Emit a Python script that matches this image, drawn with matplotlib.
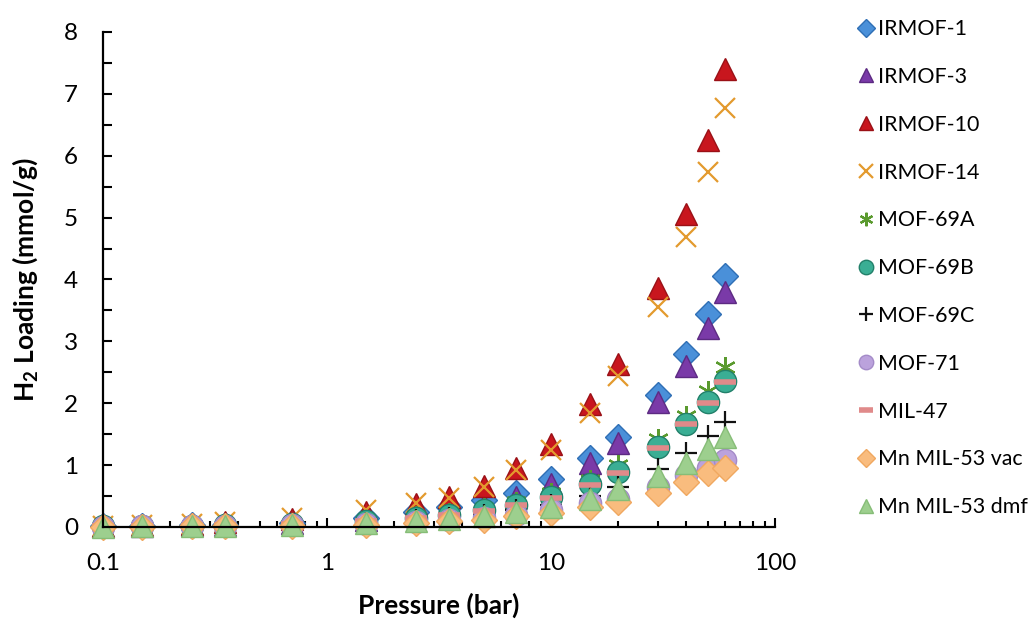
import numpy as np
import matplotlib
matplotlib.use("Agg")
import matplotlib.pyplot as plt
from matplotlib.ticker import MultipleLocator, LogLocator, FixedLocator, FixedFormatter

plt.rcParams["font.family"] = ["Lato", "DejaVu Sans"]
plt.rcParams["mathtext.fontset"] = "custom"
plt.rcParams["mathtext.rm"] = "Lato"
plt.rcParams["mathtext.bf"] = "Lato:bold"

# pressure points [bar]
pressure = [0.1, 0.15, 0.25, 0.35, 0.7, 1.5, 2.5, 3.5, 5, 7, 10, 15, 20, 30, 40, 50, 60]

# H2 loading [mmol/g]
irmof_1 = [0.01, 0.02, 0.03, 0.04, 0.07, 0.14, 0.24, 0.33, 0.43, 0.55, 0.77, 1.11, 1.45, 2.14, 2.80, 3.45, 4.05]
irmof_3 = [0.01, 0.02, 0.03, 0.04, 0.06, 0.12, 0.20, 0.27, 0.36, 0.48, 0.70, 1.04, 1.36, 2.02, 2.60, 3.22, 3.79]
irmof_10 = [0.02, 0.03, 0.05, 0.08, 0.13, 0.24, 0.37, 0.48, 0.66, 0.95, 1.34, 1.98, 2.63, 3.87, 5.06, 6.26, 7.40]
irmof_14 = [0.02, 0.03, 0.05, 0.08, 0.14, 0.27, 0.39, 0.47, 0.64, 0.92, 1.24, 1.84, 2.44, 3.56, 4.68, 5.73, 6.77]
mof_69a = [0.01, 0.02, 0.03, 0.04, 0.06, 0.11, 0.17, 0.23, 0.31, 0.41, 0.55, 0.76, 1.00, 1.42, 1.80, 2.20, 2.58]
mof_69b = [0.01, 0.01, 0.02, 0.03, 0.05, 0.09, 0.15, 0.20, 0.27, 0.36, 0.48, 0.69, 0.89, 1.29, 1.67, 2.02, 2.36]
mof_69c = [0.00, 0.01, 0.01, 0.02, 0.03, 0.06, 0.11, 0.15, 0.20, 0.27, 0.36, 0.50, 0.65, 0.94, 1.19, 1.47, 1.69]
mof_71 = [0.00, 0.01, 0.01, 0.02, 0.03, 0.05, 0.08, 0.11, 0.15, 0.20, 0.27, 0.38, 0.45, 0.65, 0.84, 0.95, 1.08]
mil_47 = [0.01, 0.01, 0.02, 0.03, 0.05, 0.09, 0.14, 0.19, 0.26, 0.35, 0.47, 0.68, 0.88, 1.28, 1.66, 2.00, 2.35]
mn_mil53_vac = [0.00, 0.00, 0.01, 0.01, 0.02, 0.04, 0.07, 0.09, 0.12, 0.17, 0.23, 0.33, 0.40, 0.55, 0.73, 0.87, 0.95]
mn_mil53_dmf = [0.00, 0.01, 0.01, 0.02, 0.03, 0.06, 0.10, 0.13, 0.18, 0.24, 0.32, 0.45, 0.61, 0.82, 1.03, 1.26, 1.45]

series = [
    ("IRMOF-1", irmof_1, dict(marker="D", ms=13.5, mfc="#4a90d9", mec="#2f6fb5", mew=1.0)),
    ("IRMOF-3", irmof_3, dict(marker="^", ms=16, mfc="#7a3aa8", mec="#5c2a82", mew=1.0)),
    ("IRMOF-10", irmof_10, dict(marker="^", ms=16, mfc="#c8161e", mec="#9a1016", mew=1.0)),
    ("IRMOF-14", irmof_14, dict(marker="x", ms=15, mfc="none", mec="#e39a2e", mew=1.6)),
    ("MOF-69A", mof_69a, dict(marker=(6, 2, 0), ms=15, mfc="none", mec="#5a9a2e", mew=1.6)),
    ("MOF-69B", mof_69b, dict(marker="o", ms=16, mfc="#3aae94", mec="#22806a", mew=1.0)),
    ("MOF-69C", mof_69c, dict(marker="+", ms=16, mfc="none", mec="#111111", mew=1.6)),
    ("MOF-71", mof_71, dict(marker="o", ms=16, mfc="#bba2dc", mec="#a48bc8", mew=1.0)),
    ("MIL-47", mil_47, dict(marker="_", ms=16, mfc="none", mec="#e08a8a", mew=4.0)),
    ("Mn MIL-53 vac", mn_mil53_vac, dict(marker="D", ms=13.5, mfc="#f9bc7e", mec="#f0a860", mew=1.0)),
    ("Mn MIL-53 dmf", mn_mil53_dmf, dict(marker="^", ms=16, mfc="#9dcf8e", mec="#86bd77", mew=1.0)),
]

fig = plt.figure(figsize=(10.31, 6.21), dpi=100)
ax = fig.add_axes([0.0999, 0.1514, 0.6518, 0.7971])

for label, values, style in series:
    ax.plot(pressure, values, ls="none", label=label, clip_on=False, **style)

ax.set_xscale("log")
ax.set_xlim(0.1, 100)
ax.set_ylim(0, 8)

ax.xaxis.set_major_locator(FixedLocator([0.1, 1, 10, 100]))
ax.xaxis.set_major_formatter(FixedFormatter(["0.1", "1", "10", "100"]))
ax.xaxis.set_minor_locator(LogLocator(base=10, subs=np.arange(2, 10)))
ax.yaxis.set_major_locator(MultipleLocator(1))
ax.yaxis.set_minor_locator(MultipleLocator(0.5))

ax.tick_params(axis="both", which="both", direction="in", width=1.5, labelsize=17.5, color="black")
ax.tick_params(axis="both", which="major", length=6.5)
ax.tick_params(axis="x", which="minor", length=4.5)
ax.tick_params(axis="y", which="minor", length=6.5)
ax.tick_params(axis="x", which="major", pad=19)
ax.tick_params(axis="y", which="major", pad=18)

for side in ("top", "right"):
    ax.spines[side].set_visible(False)
for side in ("left", "bottom"):
    ax.spines[side].set_linewidth(1.6)

ax.set_xlabel("Pressure (bar)", fontsize=19, fontweight="bold", labelpad=13)
ax.set_ylabel(r"H$_\mathbf{2}$ Loading (mmol/g)", fontsize=19, fontweight="bold", labelpad=17)

leg = fig.legend(loc="upper left", bbox_to_anchor=(0.8245, 0.983), frameon=False,
                 fontsize=15.4, markerscale=0.65, handlelength=0.65, handletextpad=0.25,
                 labelspacing=1.30, borderaxespad=0)

fig.savefig("out.png", dpi=100)
